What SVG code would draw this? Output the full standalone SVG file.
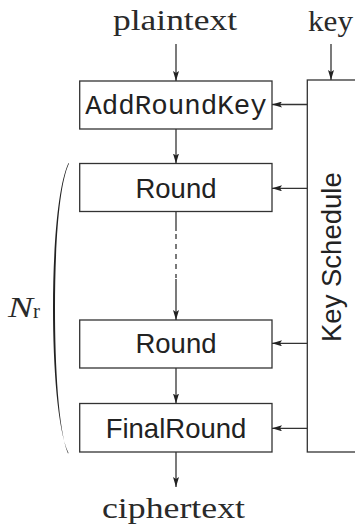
<svg xmlns="http://www.w3.org/2000/svg" width="355" height="529" viewBox="0 0 355 529">
<defs>
<marker id="ah" viewBox="0 0 10 6" refX="10" refY="3" markerWidth="10" markerHeight="6" markerUnits="userSpaceOnUse" orient="auto">
<path d="M0,0 L10,3 L0,6 L2,3 Z" fill="#222"/>
</marker>
</defs>
<style>
.box{fill:#fff;stroke:#333;stroke-width:1.3}
.ln{fill:none;stroke:#333;stroke-width:1.3}
.serif{font-family:"Liberation Serif","Times New Roman",serif;fill:#2a2a2a}
.sans{font-family:"Liberation Sans",Arial,sans-serif;fill:#222;font-size:27.5px}
.mono{font-family:"Liberation Mono","Courier New",monospace;fill:#222;font-size:27.5px}
</style>
<rect width="355" height="529" fill="#fff"/>
<g id="plaintext"><text class="serif" x="113" y="29.5" font-size="29" textLength="124" lengthAdjust="spacingAndGlyphs">plaintext</text></g>
<g id="key"><text class="serif" x="308" y="31" font-size="29" textLength="45" lengthAdjust="spacingAndGlyphs">key</text></g>
<g id="keyschedule">
<rect class="box" x="307.3" y="80" width="60" height="372"/>
<text class="sans" font-size="27" transform="translate(340.5,342) rotate(-90)">Key Schedule</text>
</g>
<g id="addroundkey"><rect class="box" x="79.7" y="81" width="192.3" height="48"/><text class="mono" x="176" y="113.5" text-anchor="middle">AddRoundKey</text></g>
<g id="round1"><rect class="box" x="79.7" y="163.5" width="192.3" height="48"/><text class="sans" x="176" y="197.5" text-anchor="middle">Round</text></g>
<g id="round2"><rect class="box" x="79.7" y="320" width="192.3" height="48"/><text class="sans" x="176" y="352.5" text-anchor="middle">Round</text></g>
<g id="finalround"><rect class="box" x="79.7" y="403.5" width="192.3" height="48.5"/><text class="sans" x="176" y="437.5" text-anchor="middle">FinalRound</text></g>
<g id="ciphertext"><text class="serif" x="102" y="518" font-size="29" textLength="143" lengthAdjust="spacingAndGlyphs">ciphertext</text></g>
<g id="nr">
<path d="M68.5,163 C57.5,186 53,250 53,308 C53,366 57.5,430 68.5,453 L68,453.5 C58.5,430 55,366 55,308 C55,250 58.5,186 69,163.5 Z" fill="#222"/>
<text class="serif" x="8" y="316.5" font-size="29" font-style="italic" textLength="25" lengthAdjust="spacingAndGlyphs">N</text>
<text class="serif" x="33" y="318" font-size="21">r</text>
</g>
<g id="connectors">
<line class="ln" x1="176" y1="44" x2="176" y2="81" marker-end="url(#ah)"/>
<line class="ln" x1="331" y1="44" x2="331" y2="80" marker-end="url(#ah)"/>
<line class="ln" x1="176" y1="129" x2="176" y2="163.5" marker-end="url(#ah)"/>
<line class="ln" x1="176" y1="211.5" x2="176" y2="231"/>
<line class="ln" x1="176" y1="234" x2="176" y2="278" stroke-dasharray="5,5"/>
<line class="ln" x1="176" y1="279" x2="176" y2="320" marker-end="url(#ah)"/>
<line class="ln" x1="176" y1="368" x2="176" y2="403.5" marker-end="url(#ah)"/>
<line class="ln" x1="176" y1="452" x2="176" y2="487" marker-end="url(#ah)"/>
<line class="ln" x1="307.3" y1="104.5" x2="272" y2="104.5" marker-end="url(#ah)"/>
<line class="ln" x1="307.3" y1="188.3" x2="272" y2="188.3" marker-end="url(#ah)"/>
<line class="ln" x1="307.3" y1="343.3" x2="272" y2="343.3" marker-end="url(#ah)"/>
<line class="ln" x1="307.3" y1="428.3" x2="272" y2="428.3" marker-end="url(#ah)"/>
</g>
</svg>
